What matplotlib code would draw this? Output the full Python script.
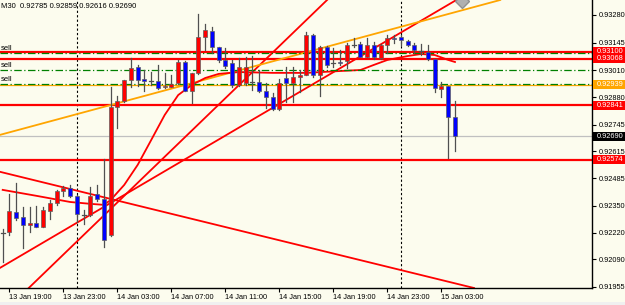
import numpy as np
import matplotlib.pyplot as plt
from matplotlib.patches import Rectangle
import matplotlib.transforms as mtransforms

# M30 bars, 13 Jan 18:30 -> 15 Jan 04:00
opens = [0.92218, 0.92225, 0.92321, 0.92296, 0.92257, 0.92267, 0.92248, 0.92325, 0.92364, 0.92423,
         0.92437, 0.92399, 0.92306, 0.92306, 0.92409, 0.92384, 0.92209, 0.92832, 0.92861, 0.92963,
         0.93027, 0.92968, 0.92959, 0.92959, 0.92929, 0.92929, 0.92949, 0.93051, 0.92910, 0.92998,
         0.93173, 0.93202, 0.93124, 0.93061, 0.93046, 0.92939, 0.92949, 0.92954, 0.92954, 0.92910,
         0.92881, 0.92822, 0.92973, 0.92949, 0.92978, 0.92988, 0.93183, 0.92988, 0.93124, 0.93046,
         0.93051, 0.93056, 0.93134, 0.93139, 0.93075, 0.93134, 0.93071, 0.93134, 0.93168, 0.93173,
         0.93153, 0.93134, 0.93105, 0.93100, 0.93066, 0.92920, 0.92934, 0.92785]
highs = [0.92238, 0.92408, 0.92462, 0.92345, 0.92345, 0.92350, 0.92345, 0.92379, 0.92428, 0.92447,
         0.92452, 0.92404, 0.92330, 0.92442, 0.92452, 0.92579, 0.92929, 0.92886, 0.92963, 0.93071,
         0.93037, 0.93012, 0.93002, 0.93037, 0.92998, 0.92988, 0.93061, 0.93056, 0.92998, 0.93285,
         0.93236, 0.93222, 0.93124, 0.93119, 0.93061, 0.93071, 0.93075, 0.93080, 0.93012, 0.92949,
         0.92900, 0.92968, 0.93027, 0.93027, 0.93012, 0.93197, 0.93187, 0.93129, 0.93129, 0.93119,
         0.93110, 0.93144, 0.93168, 0.93149, 0.93168, 0.93149, 0.93139, 0.93183, 0.93183, 0.93183,
         0.93158, 0.93144, 0.93139, 0.93134, 0.93066, 0.92954, 0.92934, 0.92859]
lows = [0.92077, 0.92209, 0.92282, 0.92145, 0.92223, 0.92248, 0.92248, 0.92286, 0.92355, 0.92399,
        0.92394, 0.92272, 0.92262, 0.92301, 0.92374, 0.92150, 0.92204, 0.92730, 0.92856, 0.92929,
        0.92934, 0.92910, 0.92939, 0.92920, 0.92924, 0.92929, 0.92944, 0.92910, 0.92851, 0.92993,
        0.93110, 0.93095, 0.93051, 0.93022, 0.92929, 0.92934, 0.92939, 0.92915, 0.92905, 0.92827,
        0.92817, 0.92817, 0.92856, 0.92856, 0.92905, 0.92988, 0.92978, 0.92886, 0.93027, 0.93027,
        0.93037, 0.93022, 0.93124, 0.93075, 0.93075, 0.93066, 0.93066, 0.93095, 0.93144, 0.93134,
        0.93129, 0.93095, 0.93085, 0.93061, 0.92905, 0.92881, 0.92584, 0.92616]
closes = [0.92218, 0.92327, 0.92293, 0.92257, 0.92267, 0.92248, 0.92330, 0.92364, 0.92423, 0.92437,
          0.92399, 0.92311, 0.92306, 0.92399, 0.92384, 0.92184, 0.92832, 0.92861, 0.92963, 0.93022,
          0.92963, 0.92959, 0.92959, 0.92924, 0.92934, 0.92944, 0.93051, 0.92910, 0.92998, 0.93173,
          0.93207, 0.93124, 0.93061, 0.93032, 0.92939, 0.93027, 0.93027, 0.92954, 0.92910, 0.92881,
          0.92822, 0.92949, 0.92949, 0.92978, 0.92988, 0.93183, 0.92988, 0.93124, 0.93037, 0.93046,
          0.93046, 0.93134, 0.93134, 0.93075, 0.93134, 0.93075, 0.93134, 0.93168, 0.93163, 0.93158,
          0.93134, 0.93110, 0.93105, 0.93066, 0.92924, 0.92934, 0.92783, 0.92690]

# moving average (bar index, price)
ma_idx = [0, 5, 10, 13, 15, 16, 18, 20, 22, 24, 26, 28, 30, 32, 35, 40, 45, 50, 53, 55, 57, 60, 62, 64, 66, 67]
ma_val = [0.92428, 0.92399, 0.92369, 0.92360, 0.92355, 0.92379, 0.92452, 0.92550, 0.92671, 0.92793,
          0.92890, 0.92939, 0.92973, 0.92993, 0.93002, 0.92998, 0.92998, 0.93007, 0.93012, 0.93037,
          0.93061, 0.93080, 0.93090, 0.93085, 0.93061, 0.93051]

# horizontal levels
red_levels = [0.93100, 0.93068, 0.92841, 0.92574]
sell_levels = [0.93095, 0.93010, 0.92944]
orange_level = 0.92939
bid_level = 0.92690

# trend lines: (idx1, price1, idx2, price2)
trend_red = [(-0.4, 0.92516, 69.2, 0.91955),
             (-0.4, 0.92048, 67.2, 0.93353),
             (16.3, 0.92345, 38.1, 0.93037)]
trend_orange = (-0.4, 0.92696, 73.7, 0.93353)

# arrow object near the top
obj_idx, obj_price = 68.0, 0.93350

yticks = [0.93280, 0.93145, 0.93010, 0.92880, 0.92745, 0.92615, 0.92485, 0.92350, 0.92220, 0.92090, 0.91955]
xtick_idx = [1, 9, 17, 25, 33, 41, 49, 57, 65]
xtick_lab = ['13 Jan 19:00', '13 Jan 23:00', '14 Jan 03:00', '14 Jan 07:00', '14 Jan 11:00',
             '14 Jan 15:00', '14 Jan 19:00', '14 Jan 23:00', '15 Jan 03:00']
separators = [11, 59]

bg = '#FCFCEE'
plt.rcParams['font.family'] = ['Liberation Sans', 'DejaVu Sans']

fig = plt.figure(figsize=(6.25, 3.05), dpi=100)
fig.patch.set_facecolor(bg)
ax = fig.add_axes([0, 17 / 305, 592 / 625, 288 / 305])
ax.set_facecolor(bg)
ax.set_xlim(-0.4, 87.3)
ax.set_ylim(0.91950, 0.93353)

# levels
for p in red_levels:
    ax.axhline(p, color='#FF0000', lw=1.6, zorder=2)
for p in sell_levels:
    ax.axhline(p, color='#008000', lw=0.9, ls=(0, (6, 2, 1, 2)), zorder=2.1)
ax.axhline(orange_level, color='#FFA500', lw=0.9, zorder=2)
ax.axhline(bid_level, color='#C0C0C0', lw=0.9, zorder=1.5)

for x0, y0, x1, y1 in trend_red:
    ax.axline((x0, y0), (x1, y1), color='#FF0000', lw=1.3, zorder=2)
ax.axline(trend_orange[:2], trend_orange[2:], color='#FFA500', lw=1.3, zorder=2)

ax.plot(ma_idx, ma_val, color='#FF0000', lw=1.3, zorder=2)

for s in separators:
    ax.axvline(s, color='black', lw=0.8, ls=(0, (2, 2)), zorder=1.8)

ax.plot(obj_idx, obj_price, marker='D', ms=7, color='#B0B0B0', mec='#909090', zorder=2.5)

# candles
w = 0.6
for i in range(len(opens)):
    o, h, l, c = opens[i], highs[i], lows[i], closes[i]
    ax.plot([i, i], [l, h], color='#505050', lw=0.9, zorder=3)
    if abs(c - o) < 0.00003:
        ax.plot([i - w / 2, i + w / 2], [o, o], color='#505050', lw=0.9, zorder=3.1)
    else:
        col = '#FF0000' if c > o else '#0000FF'
        ax.add_patch(Rectangle((i - w / 2, min(o, c)), w, abs(c - o), facecolor=col,
                               edgecolor='#606060', lw=0.5, zorder=3.1))

for p in sell_levels:
    ax.text(-0.25, p + 0.00005, 'sell', fontsize=5.5, va='bottom', ha='left', zorder=4)

# axes styling
for sp in ['left', 'top']:
    ax.spines[sp].set_visible(False)
ax.spines['right'].set_linewidth(1)
ax.spines['bottom'].set_linewidth(1)
ax.yaxis.tick_right()
ax.set_yticks(yticks)
ax.set_yticklabels(['%.5f' % v for v in yticks])
ax.tick_params(axis='y', length=3, width=0.8, pad=2, labelsize=5.3)
ax.set_xticks(xtick_idx)
ax.set_xticklabels(xtick_lab)
ax.tick_params(axis='x', length=3, width=0.8, pad=1.5, labelsize=5.3)
for lab in ax.get_xticklabels():
    lab.set_ha('left')

# price labels on the right
trans = mtransforms.blended_transform_factory(ax.transAxes, ax.transData)
boxes = [(0.92574, '#FF0000', 'white'), (0.92690, 'black', 'white'), (0.92841, '#FF0000', 'white'),
         (0.92939, '#FFA500', 'white'), (0.93068, '#FF0000', 'white'), (0.93100, '#FF0000', 'white')]
bh = 9 * 0.0000487
for p, fc, tc in boxes:
    ax.add_patch(Rectangle((1.002, p - bh / 2), 0.06, bh, transform=trans, facecolor=fc,
                           edgecolor='none', clip_on=False, zorder=10))
    ax.text(1.0085, p, '%.5f' % p, transform=trans, color=tc, fontsize=5.3, va='center',
            ha='left', zorder=11, clip_on=False)

fig.text(1 / 625, 1 - 7 / 305, 'M30  0.92785 0.92859 0.92616 0.92690', fontsize=5.5,
         va='center', ha='left')
fig.patches.append(Rectangle((0, 0), 1, 3 / 305, transform=fig.transFigure, facecolor='#F0F0F0',
                             edgecolor='none'))

fig.savefig('out.png', dpi=100, facecolor=bg)
